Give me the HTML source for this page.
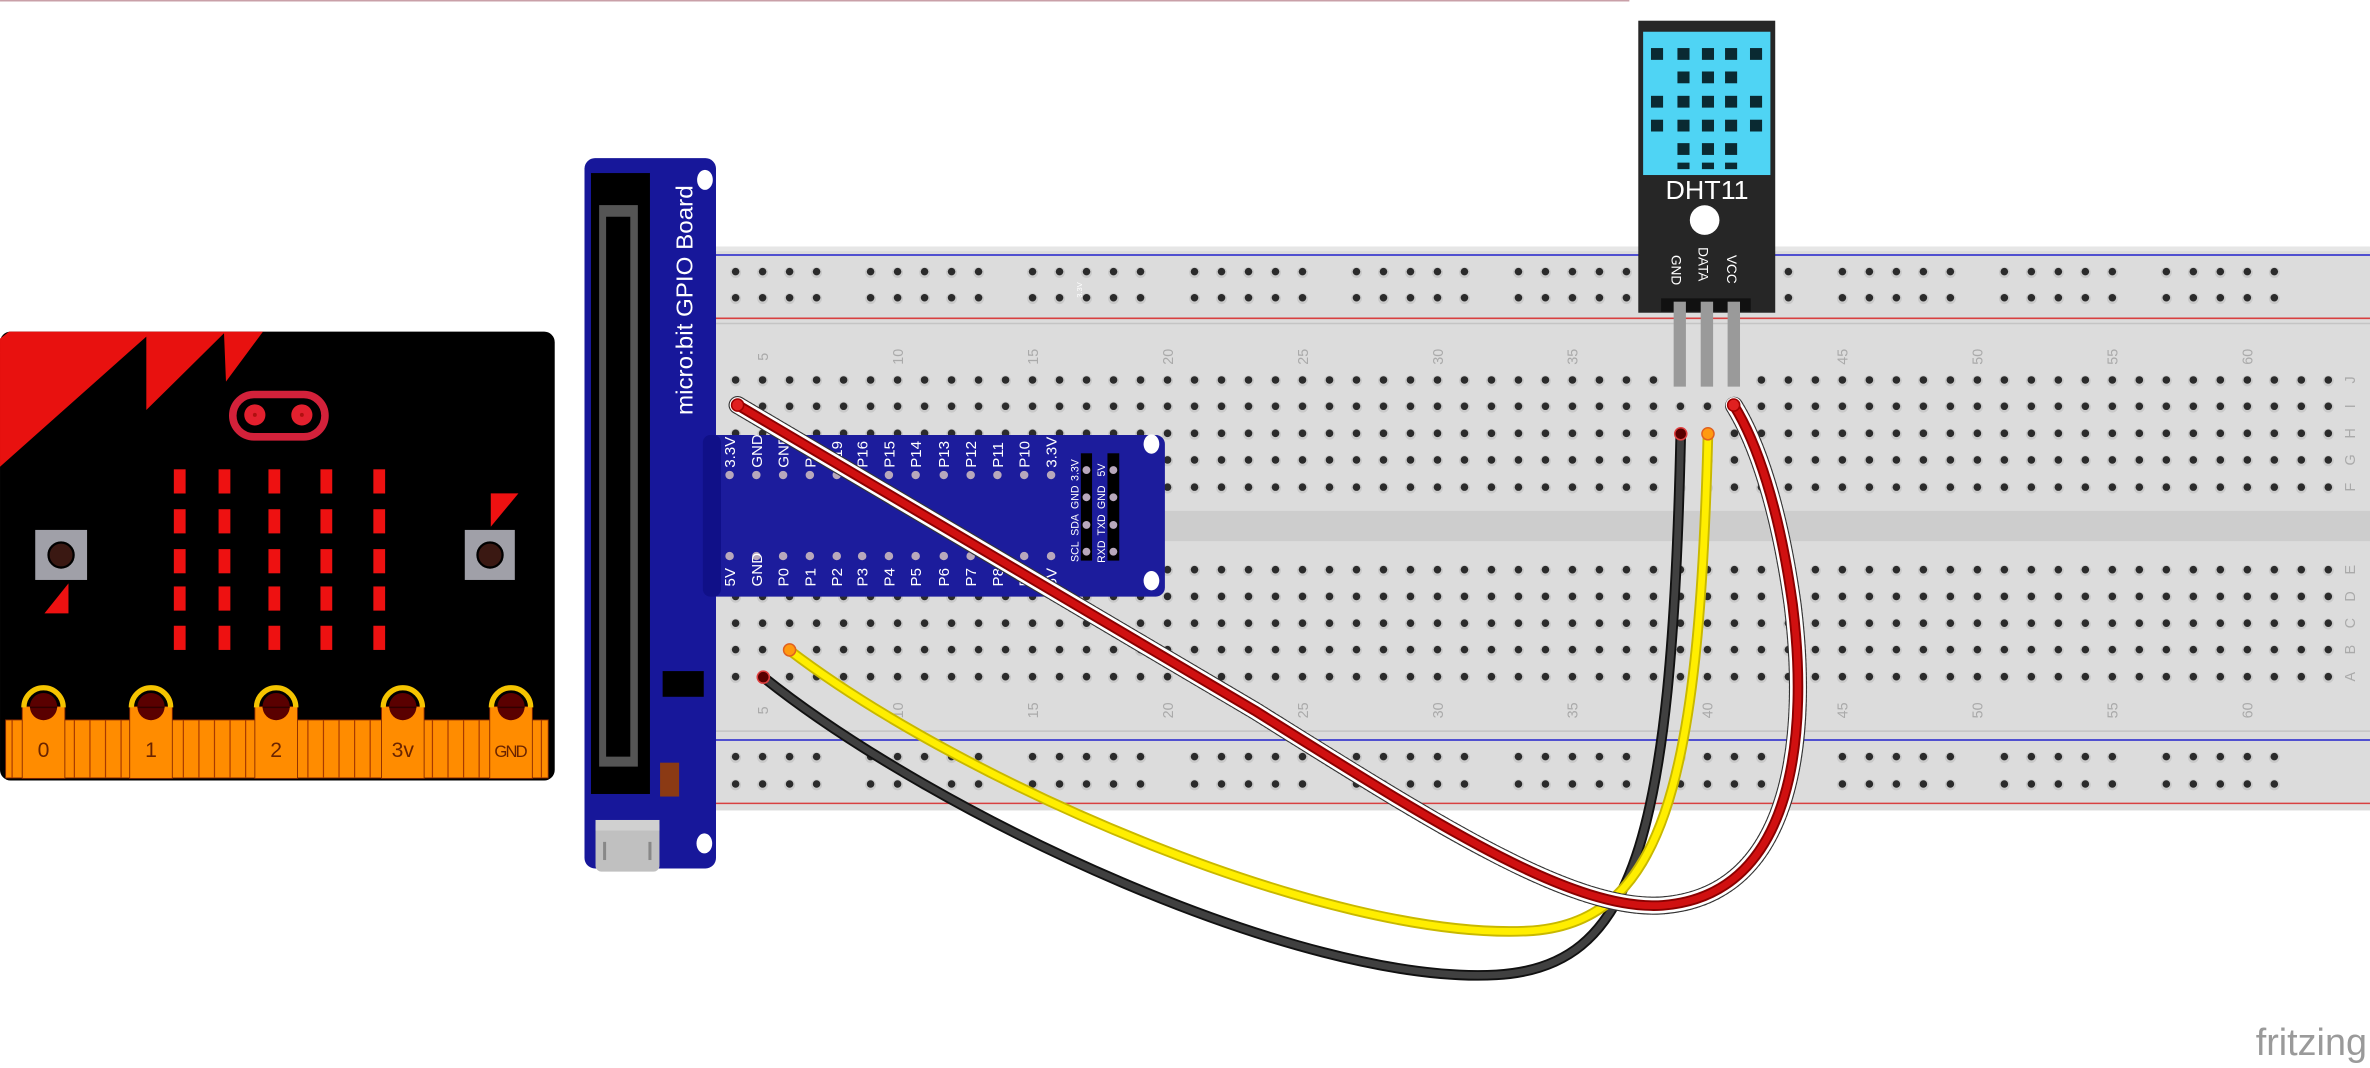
<!DOCTYPE html>
<html><head><meta charset="utf-8"><style>
html,body{margin:0;padding:0;background:#fff;overflow:hidden}
svg{display:block}
text{font-family:"Liberation Sans","DejaVu Sans",sans-serif}
</style></head><body>
<svg id="s" xmlns="http://www.w3.org/2000/svg" width="2370" height="1068" viewBox="0 0 1568 706.6">
<rect width="1568" height="707" fill="#fff"/>
<line x1="0" y1="0.5" x2="1078" y2="0.5" stroke="#c9a0a8" stroke-width="1"/>
<!-- breadboard -->
<rect x="470" y="163.2" width="1098" height="373" fill="#dcdcdc"/>
<rect x="470" y="163.2" width="1098" height="3" fill="#e6e6e6"/>
<line x1="470" y1="168.7" x2="1568" y2="168.7" stroke="#2222cc" stroke-width="1"/>
<line x1="470" y1="210.6" x2="1568" y2="210.6" stroke="#d84040" stroke-width="1"/>
<line x1="470" y1="214" x2="1568" y2="214" stroke="#c4c4c4" stroke-width="1"/>
<rect x="470" y="338" width="1098" height="20" fill="#cdcdcd"/>
<line x1="470" y1="483.7" x2="1568" y2="483.7" stroke="#c4c4c4" stroke-width="1"/>
<line x1="470" y1="489.6" x2="1568" y2="489.6" stroke="#2222cc" stroke-width="1"/>
<line x1="470" y1="531.5" x2="1568" y2="531.5" stroke="#d84040" stroke-width="1"/>
<g id="holes"></g>
<g id="lbl" fill="#aaaaaa" font-size="9.5"></g>
<text x="716" y="197" font-size="5" fill="#fff" transform="rotate(-90 716 197)">3.3V</text>

<!-- micro:bit -->
<rect x="0" y="219.4" width="367" height="297" rx="7" fill="#000"/>
<polygon points="0,308.8 96.8,222.7 96.8,271.3 148.2,220.5 149.5,252.5 174,219.4 6,219.4 0,224" fill="#e8110f"/>
<g fill="#ee1111" id="leds"></g>
<rect x="154" y="261" width="61" height="28" rx="14" fill="#000" stroke="#d3213a" stroke-width="5"/>
<circle cx="168.6" cy="274.5" r="7" fill="#e3202e"/><circle cx="199.7" cy="274.5" r="7" fill="#e3202e"/>
<circle cx="168.6" cy="274.5" r="1.3" fill="#b01010"/><circle cx="199.7" cy="274.5" r="1.3" fill="#b01010"/>
<rect x="23.3" y="350.6" width="34.3" height="33.1" fill="#a0a0a8"/>
<circle cx="40.4" cy="367.2" r="8.3" fill="#3a1812" stroke="#000" stroke-width="1.5"/>
<rect x="307.5" y="350.6" width="33.1" height="33.1" fill="#a0a0a8"/>
<circle cx="324.2" cy="367.2" r="8.3" fill="#3a1812" stroke="#000" stroke-width="1.5"/>
<polygon points="29.4,405.8 45.3,405.8 45.3,386" fill="#ee1111"/>
<polygon points="324.7,326.4 343,326.4 324.7,348.5" fill="#ee1111"/>
<rect x="3.7" y="476.3" width="359" height="38.4" fill="#ff8c00" stroke="#8a2a00" stroke-width="0.6"/>
<g id="stripes" stroke="#a83a00" stroke-width="0.8"></g>
<g id="pads"></g>

<!-- GPIO board -->
<rect x="386.7" y="104.6" width="87" height="470" rx="7" fill="#17179a"/>
<rect x="391" y="114.5" width="39" height="410.8" fill="#000"/>
<rect x="396.4" y="135.7" width="25.6" height="371.5" fill="#555"/>
<rect x="401" y="143.4" width="16" height="357.2" fill="#000"/>
<rect x="438.4" y="444" width="27.2" height="17" fill="#000"/>
<rect x="436.7" y="504.6" width="12.6" height="22.4" fill="#8b3a14"/>
<rect x="394" y="542.5" width="42.3" height="34.2" rx="4" fill="#c0c0c0"/>
<rect x="394" y="542.5" width="42.3" height="7" fill="#d0d0d0"/>
<rect x="399" y="557" width="2" height="12" fill="#888"/><rect x="429" y="557" width="2" height="12" fill="#888"/>
<ellipse cx="466.4" cy="119" rx="5.2" ry="6.6" fill="#fff"/>
<ellipse cx="466" cy="558" rx="5.2" ry="6.6" fill="#fff"/>
<text x="0" y="0" font-size="15" fill="#fff" transform="translate(458 274.6) rotate(-90)" textLength="152" lengthAdjust="spacingAndGlyphs">micro:bit GPIO Board</text>
<!-- extension -->
<rect x="465" y="287.8" width="305.7" height="106.9" rx="6" fill="#1c1c9c"/>
<rect x="465" y="287.8" width="12" height="106.9" rx="5" fill="#101088"/>
<ellipse cx="761.8" cy="293.8" rx="5.2" ry="6.4" fill="#fff"/>
<ellipse cx="761.8" cy="384.2" rx="5.2" ry="6.4" fill="#fff"/>
<g id="ext" fill="#fff" font-size="10"></g>
<rect x="715.1" y="299.9" width="7.4" height="71" fill="#000"/>
<rect x="732.7" y="299.9" width="7.8" height="71" fill="#000"/>
<g id="hdr"></g>

<!-- DHT11 -->
<rect x="1083.9" y="13.7" width="90.6" height="193.2" fill="#262626"/>
<rect x="1087.1" y="21" width="84.2" height="94.8" fill="#4fd4f4"/>
<g id="dsq" fill="#0a2a32"></g>
<text x="1129.4" y="131.5" font-size="17" fill="#fff" text-anchor="middle" textLength="55" lengthAdjust="spacingAndGlyphs">DHT11</text>
<circle cx="1127.8" cy="145.6" r="9.8" fill="#fff"/>
<text font-size="9" fill="#fff" transform="translate(1105.8 168.7) rotate(90)">GND</text>
<text font-size="9" fill="#fff" transform="translate(1123.7 163.5) rotate(90)">DATA</text>
<text font-size="9" fill="#fff" transform="translate(1142.5 168.7) rotate(90)">VCC</text>
<rect x="1099" y="197.4" width="59.3" height="8.8" fill="#111"/>
<rect x="1107.3" y="199.6" width="8.1" height="56.2" fill="#9a9a9a"/>
<rect x="1125.2" y="199.6" width="8.2" height="56.2" fill="#9a9a9a"/>
<rect x="1143" y="199.6" width="8.2" height="56.2" fill="#9a9a9a"/>

<!-- wires -->
<g fill="none" stroke-linecap="round">
<path d="M505,448 C620,540 860,652 990,645 C1080,640 1106,560 1112,287" stroke="#111" stroke-width="7"/>
<path d="M505,448 C620,540 860,652 990,645 C1080,640 1106,560 1112,287" stroke="#404040" stroke-width="4.5"/>
<path d="M522,430 C640,520 880,622 1010,616 C1100,612 1124,520 1130,287" stroke="#c8b800" stroke-width="7"/>
<path d="M522,430 C640,520 880,622 1010,616 C1100,612 1124,520 1130,287" stroke="#ffee00" stroke-width="4.5"/>
<path d="M488,268 L830,470 C950,545 1040,603 1100,599 C1190,592 1196,480 1186,400 C1177,335 1162,292 1147,268" stroke="#333" stroke-width="12" stroke-dasharray="1.5 1.5"/>
<path d="M488,268 L830,470 C950,545 1040,603 1100,599 C1190,592 1196,480 1186,400 C1177,335 1162,292 1147,268" stroke="#fff" stroke-width="10.5"/>
<path d="M488,268 L830,470 C950,545 1040,603 1100,599 C1190,592 1196,480 1186,400 C1177,335 1162,292 1147,268" stroke="#8a0000" stroke-width="7"/>
<path d="M488,268 L830,470 C950,545 1040,603 1100,599 C1190,592 1196,480 1186,400 C1177,335 1162,292 1147,268" stroke="#d01010" stroke-width="4.5"/>
</g>
<circle cx="505" cy="448" r="4" fill="#5a0000" stroke="#e04040" stroke-width="1"/>
<circle cx="522.4" cy="430" r="4" fill="#ff9a10" stroke="#e06020" stroke-width="1"/>
<circle cx="1112" cy="287" r="4" fill="#5a0000" stroke="#e04040" stroke-width="1"/>
<circle cx="1130" cy="287" r="4" fill="#ff9a10" stroke="#e06020" stroke-width="1"/>
<circle cx="488" cy="268" r="4" fill="#e02020" stroke="#a00000" stroke-width="1"/>
<circle cx="1147" cy="268" r="4" fill="#e02020" stroke="#a00000" stroke-width="1"/>

<text x="1566" y="698" font-size="25" fill="#9a9a9a" text-anchor="end" font-family="DejaVu Sans, sans-serif">fritzing</text>
</svg>
<script>
var NS="http://www.w3.org/2000/svg";
function el(p,t,a,txt){var e=document.createElementNS(NS,t);for(var k in a){if(a[k]!==null)e.setAttribute(k,a[k]);}if(txt)e.textContent=txt;p.appendChild(e);return e;}
function cx(n){return 433.1+(n-1)*17.86;}
var H=document.getElementById('holes');
function hole(x,y){el(H,'circle',{cx:x,cy:y+0.6,r:3.6,fill:'#c9c9c9'});el(H,'circle',{cx:x,cy:y,r:2.5,fill:'#2b2b2b'});}
var rows=[251.4,268.8,286.7,304.3,322.3,376.9,394.6,412.3,429.8,447.7];
for(var n=1;n<=63;n++)for(var r=0;r<rows.length;r++)hole(cx(n),rows[r]);
for(var g=3;g<=57;g+=6)for(var k=0;k<5;k++){var x=cx(g+k);hole(x,179.7);hole(x,197);hole(x,500.6);hole(x,518.7);}
var L=document.getElementById('lbl');
for(var n=5;n<=60;n+=5){var x=cx(n);
 el(L,'text',{transform:'translate('+(x+3.5)+' 236) rotate(-90)','text-anchor':'middle'},String(n));
 el(L,'text',{transform:'translate('+(x+3.5)+' 470) rotate(-90)','text-anchor':'middle'},String(n));}
var le=['J','I','H','G','F','E','D','C','B','A'];
for(var r=0;r<10;r++)el(L,'text',{transform:'translate(1558 '+rows[r]+') rotate(-90)','text-anchor':'middle'},le[r]);
var LD=document.getElementById('leds');
var lx=[115,144.6,177.6,212,247],ly=[310.5,336.9,363.3,388,414];
lx.forEach(function(x){ly.forEach(function(y){el(LD,'rect',{x:x,y:y,width:7.8,height:16});});});
var S=document.getElementById('stripes');
for(var x=8;x<362;x+=10.3)el(S,'line',{x1:x,y1:476.3,x2:x,y2:514.7});
var P=document.getElementById('pads');
[[14.7,'0'],[85.8,'1'],[168.6,'2'],[252.4,'3v'],[324,'GND']].forEach(function(p){
 var x=p[0],c=x+14.1;
 el(P,'rect',{x:x,y:467.5,width:28.2,height:47.5,fill:'#ff8c00',stroke:'#8a2a00','stroke-width':0.6});
 el(P,'path',{d:'M'+(c-13)+' 468 A13 13 0 0 1 '+(c+13)+' 468',fill:'none',stroke:'#f5c400','stroke-width':3.5});
 el(P,'circle',{cx:c,cy:467.5,r:9,fill:'#5a0000'});
 el(P,'rect',{x:c-9,y:467.5,width:18,height:1,fill:'#300000'});
 el(P,'text',{x:c,y:501,'font-size':p[1].length>2?11:14,fill:'#6a2400','text-anchor':'middle',textLength:p[1].length>2?22:null},p[1]);
});
var E=document.getElementById('ext');
var ex=[482.7,500.4,518.1,535.8,553.6,570.4,588.1,605.8,624.4,642.2,659.9,677.6,695.4];
var topL=['3.3V','GND','GND','P20','P19','P16','P15','P14','P13','P12','P11','P10','3.3V'];
var botL=['5V','GND','P0','P1','P2','P3','P4','P5','P6','P7','P8','P9','5V'];
ex.forEach(function(x,i){
 el(E,'text',{transform:'translate('+(x+3.6)+' 309.5) rotate(-90)'},topL[i]);
 el(E,'circle',{cx:x,cy:314.3,r:2.8,fill:'#b8a8bc'});
 el(E,'circle',{cx:x,cy:367.9,r:2.8,fill:'#b8a8bc'});
 el(E,'text',{transform:'translate('+(x+3.6)+' 388) rotate(-90)'},botL[i]);
});
var HD=document.getElementById('hdr');
var hy=[311,329,347.3,365],l1=['3.3V','GND','SDA','SCL'],l2=['5V','GND','TXD','RXD'];
hy.forEach(function(y,i){
 el(HD,'circle',{cx:718.8,cy:y,r:2.6,fill:'#b8a8bc'});
 el(HD,'circle',{cx:736.6,cy:y,r:2.6,fill:'#b8a8bc'});
 el(HD,'text',{transform:'translate(713.5 '+y+') rotate(-90)','text-anchor':'middle','font-size':7,fill:'#fff'},l1[i]);
 el(HD,'text',{transform:'translate(731 '+y+') rotate(-90)','text-anchor':'middle','font-size':7,fill:'#fff'},l2[i]);
});
var D=document.getElementById('dsq');
var dx=[1096.3,1113.8,1130,1145.3,1161.8],dy=[35.7,51.2,67.3,83.1,98.6,111.5];
dy.forEach(function(y,i){var cols=(i%3==1||i==5)?[1,2,3]:[0,1,2,3,4];
 cols.forEach(function(c){el(D,'rect',{x:dx[c]-4,y:y-3.9,width:8,height:(i==5?4.3:7.8)});});});
</script>
</body></html>
